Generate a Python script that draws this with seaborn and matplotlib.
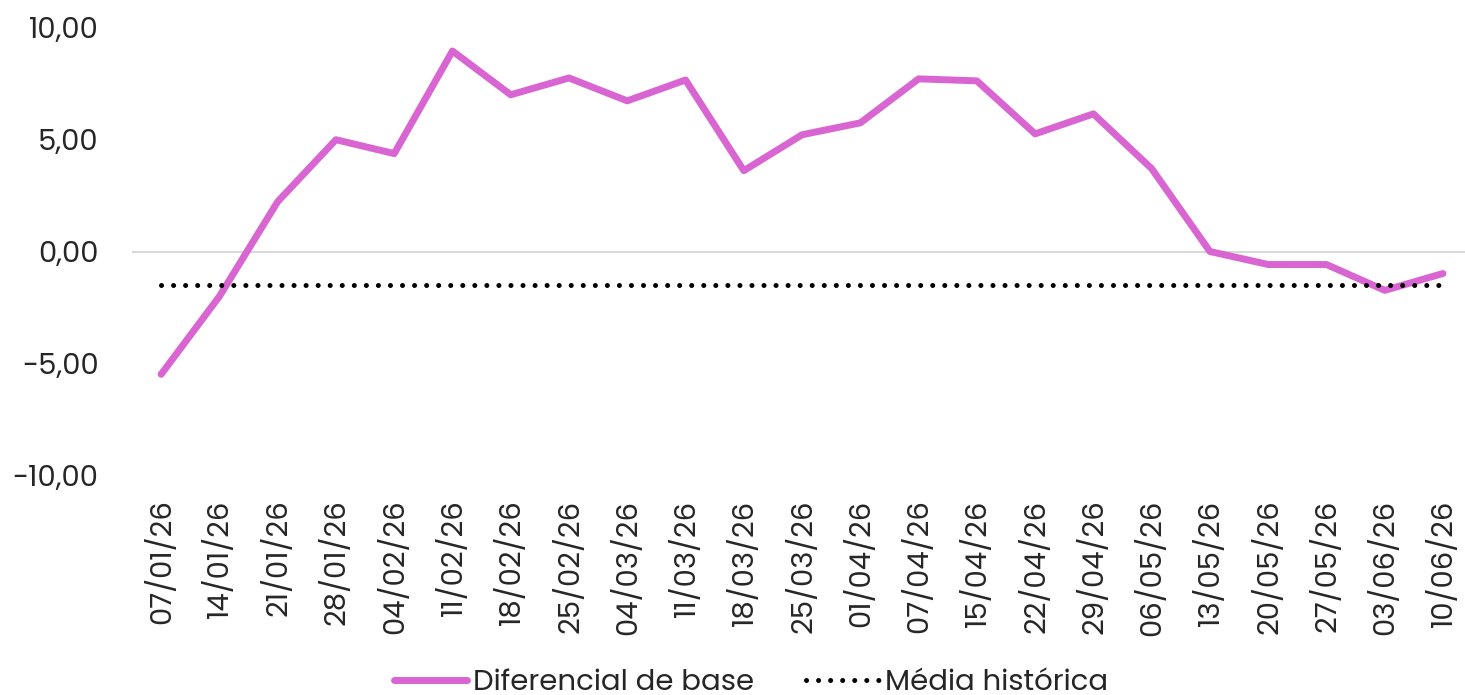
import pandas as pd
import seaborn as sns
import matplotlib.pyplot as plt

# donnees
datas = ["07/01/26", "14/01/26", "21/01/26", "28/01/26", "04/02/26", "11/02/26",
         "18/02/26", "25/02/26", "04/03/26", "11/03/26", "18/03/26", "25/03/26",
         "01/04/26", "07/04/26", "15/04/26", "22/04/26", "29/04/26", "06/05/26",
         "13/05/26", "20/05/26", "27/05/26", "03/06/26", "10/06/26"]
diferencial = [-5.47, -2.0, 2.22, 4.98, 4.36, 8.93, 6.98, 7.73, 6.71, 7.64, 3.6, 5.2,
               5.73, 7.69, 7.6, 5.24, 6.13, 3.69, 0.0, -0.58, -0.58, -1.73, -0.98]
media_historica = -1.51
yticks = [-10, -5, 0, 5, 10]

df = pd.DataFrame({"data": datas, "valor": diferencial})
df_media = pd.DataFrame({"data": [datas[0], datas[-1]],
                         "valor": [media_historica, media_historica]})

sns.set_style("white")
plt.rcParams["font.family"] = ["Poppins", "Lato", "DejaVu Sans"]

fig = plt.figure(figsize=(14.65, 6.95), dpi=100)
ax = fig.add_axes([132 / 1465, 1 - 476 / 695, 1 - 132 / 1465, (476 - 27) / 695])

ax.axhline(0, color="#d9d9d9", linewidth=1.5, zorder=0)

sns.lineplot(data=df, x="data", y="valor", ax=ax, color="#D865D1", linewidth=5,
             solid_capstyle="round", label="Diferencial de base", sort=False)
sns.lineplot(data=df_media, x="data", y="valor", ax=ax, color="black", linewidth=3.6,
             linestyle=(0, (0.01, 2.4)), dash_capstyle="round",
             label="Média histórica", sort=False)

ax.set_ylim(-10, 10)
ax.set_xlim(-0.5, len(datas) - 1 + 22 / 58.3)
ax.set_yticks(yticks)
ax.set_yticklabels([f"{v:.2f}".replace(".", ",") for v in yticks])
ax.tick_params(axis="y", labelsize=21, length=0, pad=24)
ax.tick_params(axis="x", labelsize=21, length=0, rotation=90, pad=17)
ax.set_xlabel("")
ax.set_ylabel("")
for s in ax.spines.values():
    s.set_visible(False)

leg = ax.legend(loc="center", bbox_to_anchor=(751 / 1465, 1 - 683 / 695),
                bbox_transform=fig.transFigure, ncol=2, frameon=False, fontsize=21,
                handlelength=2.5, handletextpad=0.2, columnspacing=1.8)

fig.savefig("out.png", dpi=100)
